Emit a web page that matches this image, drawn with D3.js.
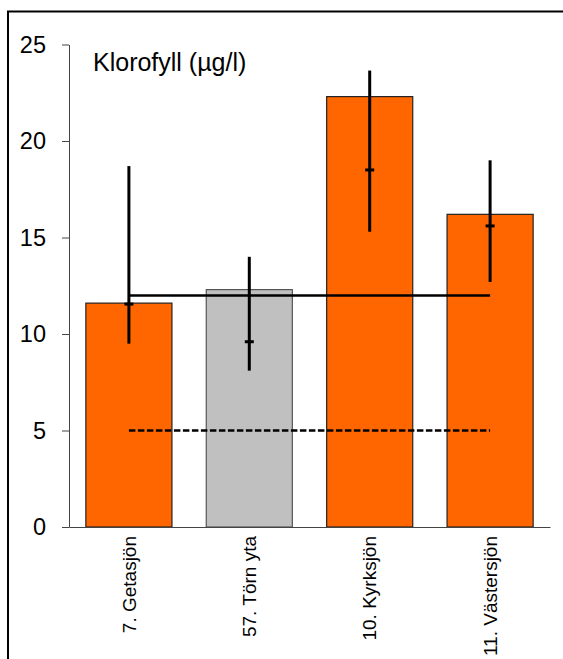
<!DOCTYPE html>
<html>
<head>
<meta charset="utf-8">
<script src="https://cdn.jsdelivr.net/npm/d3@7"></script>
<style>
  html, body { margin: 0; padding: 0; background: #fff; }
  svg { display: block; font-family: "Liberation Sans", Arial, sans-serif; }
</style>
</head>
<body>
<svg id="chart" width="563" height="659"></svg>
<script>
// ---- data ----
const title = "Klorofyll (µg/l)";
const categories = ["7. Getasjön", "57. Törn yta", "10. Kyrksjön", "11. Västersjön"];
const values = [11.6, 12.3, 22.3, 16.2];
const errLow = [9.5, 8.1, 15.3, 12.7];
const errHigh = [18.7, 14.0, 23.65, 19.0];
const meanMarks = [11.55, 9.6, 18.5, 15.6];
const isReference = [false, true, false, false];
const yTicks = [0, 5, 10, 15, 20, 25];
const solidLineValue = 12;
const dashedLineValue = 5;

// ---- layout ----
const svg = d3.select("#chart");
const x = d3.scaleBand().domain(categories).range([69, 550]).paddingInner(0.285).paddingOuter(0.14);
const y = d3.scaleLinear().domain([0, 25]).range([527, 44.5]);

// frame
svg.append("rect").attr("x", 8).attr("y", 11.5).attr("width", 600).attr("height", 700)
  .attr("fill", "none").attr("stroke", "#000").attr("stroke-width", 2);

// bars
svg.selectAll("rect.bar").data(categories).enter().append("rect")
  .attr("class", "bar")
  .attr("x", d => x(d))
  .attr("width", x.bandwidth())
  .attr("y", (d, i) => y(values[i]))
  .attr("height", (d, i) => y(0) - y(values[i]))
  .attr("fill", (d, i) => isReference[i] ? "#C0C0C0" : "#FF6600")
  .attr("stroke", (d, i) => isReference[i] ? "#555" : "#222")
  .attr("stroke-width", 1.2);

// axes
const yAxis = svg.append("g").attr("transform", "translate(69,0)")
  .call(d3.axisLeft(y).tickValues(yTicks).tickSize(7).tickSizeOuter(0).tickPadding(16));
yAxis.select(".domain").attr("stroke", "#444");
yAxis.selectAll(".tick line").attr("stroke", "#444");
yAxis.selectAll(".tick text").attr("font-size", 23.5).attr("fill", "#000")
  .attr("font-family", "Liberation Sans, Arial, sans-serif");

const xAxis = svg.append("g").attr("transform", "translate(0,527)")
  .call(d3.axisBottom(x).tickSize(0).tickSizeOuter(0).tickPadding(0));
xAxis.select(".domain").attr("stroke", "#444");
xAxis.selectAll(".tick text")
  .attr("font-size", 19).attr("fill", "#000")
  .attr("font-family", "Liberation Sans, Arial, sans-serif")
  .attr("text-anchor", "end")
  .attr("transform", "translate(0,9) rotate(-90)")
  .attr("x", 0).attr("y", 0).attr("dy", "0.35em");

// reference lines
const xStart = x(categories[0]) + x.bandwidth() / 2;
const xEnd = x(categories[categories.length - 1]) + x.bandwidth() / 2;
svg.append("line").attr("x1", xStart).attr("x2", xEnd)
  .attr("y1", y(solidLineValue)).attr("y2", y(solidLineValue))
  .attr("stroke", "#000").attr("stroke-width", 2.5);
svg.append("line").attr("x1", xStart).attr("x2", xEnd)
  .attr("y1", y(dashedLineValue)).attr("y2", y(dashedLineValue))
  .attr("stroke", "#000").attr("stroke-width", 2.5).attr("stroke-dasharray", "6.5,2.5");

// error bars
const eb = svg.selectAll("g.err").data(categories).enter().append("g").attr("class", "err");
eb.append("line")
  .attr("x1", d => x(d) + x.bandwidth() / 2).attr("x2", d => x(d) + x.bandwidth() / 2)
  .attr("y1", (d, i) => y(errHigh[i])).attr("y2", (d, i) => y(errLow[i]))
  .attr("stroke", "#000").attr("stroke-width", 3);
eb.append("line")
  .attr("x1", d => x(d) + x.bandwidth() / 2 - 4.5).attr("x2", d => x(d) + x.bandwidth() / 2 + 4.5)
  .attr("y1", (d, i) => y(meanMarks[i])).attr("y2", (d, i) => y(meanMarks[i]))
  .attr("stroke", "#000").attr("stroke-width", 3);

// title
svg.append("text").attr("x", 93).attr("y", 71).attr("font-size", 25).attr("fill", "#000").text(title);
</script>
</body>
</html>
